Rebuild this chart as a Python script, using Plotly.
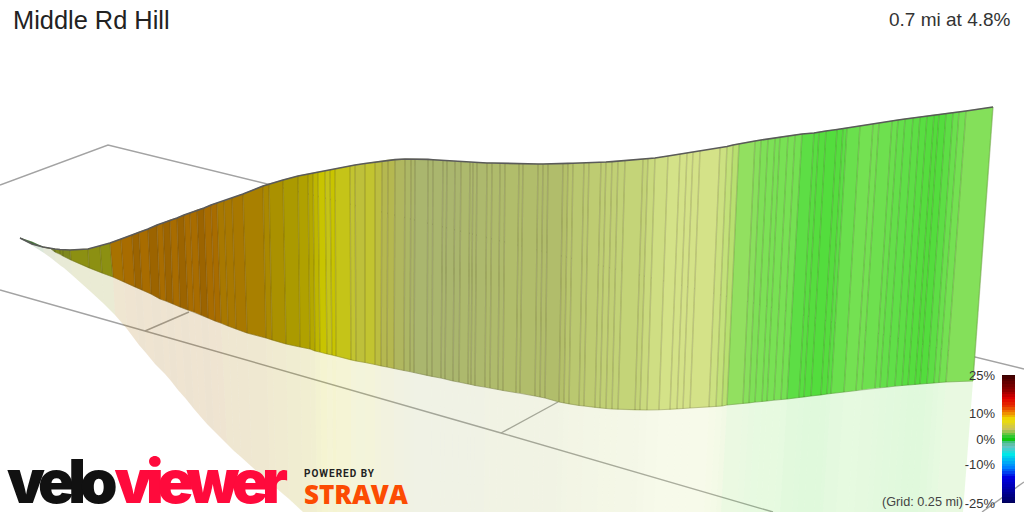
import plotly.graph_objects as go

title = "Middle Rd Hill"
summary = "0.7 mi at 4.8%"
grid_note = "(Grid: 0.25 mi)"

# Profile wall boundaries (canvas units)
top_x = [20,32,43,50,55,60,63,70,88,100,110,121,132,139,148,157,163,170,177,184,190,197,204,211,217,224,232,243,263,269,283,298,308,313,318,325,330,335,350,355,365,375,382,388,395,405,411,415,428,433,443,447,455,461,470,473,477,487,492,500,505,519,523,538,543,548,563,568,573,584,589,601,606,612,618,625,643,648,655,668,680,687,693,700,720,727,733,739,755,761,768,775,780,788,795,802,814,819,826,837,843,847,860,873,879,892,898,905,913,920,927,934,939,946,953,959,966,993]
top_y = [238,244,247,248.5,249,249.5,249.7,250,249,246,243,239,235,232,229,225,223,220,218,215,213,210,208,205,203,201,198,194,186,184,180,176,174,173,172,171,170,169,166,165,163.5,162,161,160,159.6,159,159,159,159.4,159.8,160.5,160.8,161.3,161.8,162.3,162.5,162.6,163,163,163.3,163.4,163.6,163.7,164,164,164,163.6,163.4,163.2,163,162.8,162.3,162,161.6,161.1,160.6,159,158.5,158,156,154,153,152,151,148,146.5,145,143.7,141,140,139,138,137,136,135,134,133,132,131,129.5,128.5,128,126,124,123,121,120,119,118,117,116,115,114.5,113.5,112.5,112,111,107]
base_x = [20,32,43,50,55,60,63,71,89,102,113,124,135,142,151,160,166,173,180,188,194,201,208,215,221,228,236,247,266,272,286,300,310,315,320,327,332,336,351,356,365,375,381,387,394,404,410,414,427,432,441,445,453,459,468,471,475,485,490,498,503,516,520,535,540,545,559,564,569,579,584,595,600,606,612,618,635,640,647,659,670,677,683,690,709,716,722,727,743,749,755,762,767,774,781,787,799,804,811,821,827,831,844,856,862,875,880,887,895,902,908,915,920,927,934,939,946,973]
base_y = [238,242,247,248,252,254,256,260,268,273,277,282,287,290,294,299,301,304,307,310,312,315,318,321,323,326,329,333,338,340,344,347,349,351,352,354,355,356,360,361,362.5,364.5,366,367,368.5,370.5,371.5,372.5,375.5,376.5,378,379,381,382,384,384.5,385.5,387,388,389.5,390.5,392.5,393,396,397,398,402,403,404,405.5,406,407.5,408,408.5,409,409.3,410,410,410,409.8,409.5,409,408.5,408,407,406.5,406,405,403.5,403,402,401.5,401,400,399.5,399,397.5,397,396,395,394,393.5,392,390.5,389.5,388,387.5,387,386,385.5,385,384.5,384,383.5,383,382.5,382,381]
shadow_x = [20,33,44,51,56,61,64,72,91,104,115,127,139,146,155,165,171,178,186,194,200,207,214,221,227,234,241,252,270,276,289,303,312,317,322,328,333,337,351,356,365,375,381,387,394,404,410,414,427,431,440,444,452,458,467,470,474,484,489,496,501,514,518,533,538,542,556,561,566,576,581,592,597,602,608,614,631,636,643,654,665,672,678,685,704,710,716,721,737,743,749,756,761,767,774,780,792,797,804,814,820,823,836,848,854,867,872,879,886,893,899,906,911,918,925,930,936,963]
shadow_y = [238,246,253,258,262,266,268,275,292,304,315,329,345,353,364,374,381,390,399,409,416,424,431,438,444,451,457,467,483,488,499]+[512]*87
# Colour tone of each strip between two boundaries
strip_tone = [-3,-3,-2,-2,-1.5,-1.5,-1.5,-1,-1,-1,15.5,16,17,16,17,16,17,16,17,16,16,17,16,16,15,15,15,14.5,14,13.5,13,12.5,12,11.5,11,10.5,11,10.5,10,9.7,10,9.5,9,9,8.5,8.3,8.2,8,8,8,8,8,8,7.7,7.7,7.7,7.7,7.5,7.5,7.5,7.3,7.3,7.3,7.3,7.3,7.3,7,6.7,6.6,6.5,6.4,6.3,6.2,6.2,6.1,6,6,5.6,5.3,5,5,5,5,5,4.7,4.4,4,3.2,3,2.5,2.4,2.2,2.2,2.2,2,0.8,0.5,0.3,0.2,0.3,0.7,1.5,2,2,1.7,1.5,1.2,1,0.8,0.5,0.3,0.1,0.2,0.8,1.5,2,2.8]
assert len(top_x)==len(top_y)==len(base_x)==len(base_y)==len(shadow_x)==len(shadow_y)==len(strip_tone)+1

# Ground grid
grid_a_x = [0,108,1024]; grid_a_y = [185,145,369]
grid_b_x = [0,145,501,773]; grid_b_y = [290,331,433,512]
grid_c_x = [145,189]; grid_c_y = [331,312]
grid_d_x = [501,558]; grid_d_y = [433,402]
grid_e_x = [982,1024]; grid_e_y = [512,482]

# Legend
legend_grades = list(range(-25,26))
legend_ticks = [25,10,0,-10,-25]
legend_labels = ["25%","10%","0%","-10%","-25%"]
legend_stops = [(-25,"#00005a"),(-20,"#0000a0"),(-15,"#0000e0"),(-11,"#0080ff"),(-6,"#00e8e8"),(-2.6,"#70c0c0"),(-1,"#40c080"),(0,"#10c810"),(1,"#30c830"),(3.8,"#c8c060"),(7.7,"#f0e000"),(11,"#ee7000"),(13,"#e63000"),(15.8,"#e00000"),(19,"#900000"),(25,"#3a0000")]

tone_stops = [(-3,"#3c7a34"),(-2,"#6f8028"),(-1,"#8c9012"),(-0.001,"#8c9012"),(0,"#50dc3a"),(1,"#60df48"),(2,"#74e152"),(3,"#88e05c"),(4,"#b8e070"),(5,"#d4e288"),(6,"#c4d478"),(7,"#b4c06a"),(8,"#aab66e"),(9,"#b5b850"),(10,"#c2c430"),(11,"#c8c400"),(12,"#b4a800"),(13,"#ab9a00"),(14,"#aa8800"),(15,"#a87800"),(16,"#a86c00"),(17,"#9c6400"),(18,"#8a6800")]

def rgb(h):
    return tuple(int(h[i:i+2],16) for i in (1,3,5))

def tone_rgb(t):
    for (a,ca),(b,cb) in zip(tone_stops,tone_stops[1:]):
        if a<=t<=b:
            f=(t-a)/(b-a)
            return tuple(round(p+(q-p)*f) for p,q in zip(rgb(ca),rgb(cb)))
    return rgb(tone_stops[-1][1])

fig = go.Figure()
def line(xs,ys,color="#a3a3a3",width=1.4):
    fig.add_trace(go.Scatter(x=xs,y=ys,mode="lines",line=dict(color=color,width=width),hoverinfo="skip"))

for gx,gy in [(grid_a_x,grid_a_y),(grid_b_x,grid_b_y),(grid_c_x,grid_c_y),(grid_d_x,grid_d_y),(grid_e_x,grid_e_y)]:
    line(gx,gy)

# ground shadow
for i,t in enumerate(strip_tone):
    r,g,b = tone_rgb(t)
    fig.add_trace(go.Scatter(
        x=[base_x[i],base_x[i+1],shadow_x[i+1],shadow_x[i]],
        y=[base_y[i],base_y[i+1],shadow_y[i+1],shadow_y[i]],
        mode="none",fill="toself",fillcolor=f"rgba({r},{g},{b},0.18)",hoverinfo="skip"))

# wall strips
for i,t in enumerate(strip_tone):
    r,g,b = tone_rgb(t)
    fig.add_trace(go.Scatter(
        x=[top_x[i],top_x[i+1],base_x[i+1],base_x[i]],
        y=[top_y[i],top_y[i+1],base_y[i+1],base_y[i]],
        mode="lines",fill="toself",fillcolor=f"rgb({r},{g},{b})",
        line=dict(color=f"rgb({r},{g},{b})",width=0.5),hoverinfo="skip"))

# dividers
dx=[];dy=[]
for a,b,c,d in zip(top_x,top_y,base_x,base_y):
    dx+=[a,c,None];dy+=[b,d,None]
line(dx,dy,"rgba(70,60,30,0.2)",1.5)
line(base_x,base_y,"rgba(70,70,40,0.25)",1)
line(top_x,top_y,"#5a5a5a",1.6)

# colour legend
lo,hi = legend_grades[0],legend_grades[-1]
fig.add_trace(go.Heatmap(x=[0],y=legend_grades,z=[[g] for g in legend_grades],xaxis="x2",yaxis="y2",zmin=lo,zmax=hi,
    colorscale=[[(g-lo)/(hi-lo),c] for g,c in legend_stops],showscale=False,hoverinfo="skip"))

W,H=1024,512
def note(x,y,text,size,color="#222222",anchor="left",family="Liberation Sans",weight=None):
    fig.add_annotation(x=x,y=y,xref="x",yref="y",text=text,showarrow=False,xanchor=anchor,yanchor="middle",
        font=dict(family=family,size=size,color=color,weight=weight),borderpad=0,borderwidth=0)

note(13,20,title,25.4)
note(1011,19,summary,19,"#333333","right")
note(963,502,grid_note,12.7,"#444444","right")
note(59,481,"velo",60,"#111111","center","Inter",900)
note(198,481,"viewer",60,"#ff0a3c","center","Inter",900)
note(340,473,"POWERED BY",10,"#222222","center","Roboto",700)
note(304,494,"STRAVA",26,"#fc4c02","left","Open Sans",800)

fig.update_layout(
    width=W,height=H,margin=dict(l=0,r=0,t=0,b=0,pad=0,autoexpand=False),paper_bgcolor="white",plot_bgcolor="white",showlegend=False,
    xaxis=dict(range=[0,W],visible=False,domain=[0,1],fixedrange=True),
    yaxis=dict(range=[H,0],visible=False,domain=[0,1],fixedrange=True),
    xaxis2=dict(domain=[1002/W,1015/W],anchor="y2",visible=False,fixedrange=True),
    yaxis2=dict(domain=[(H-503)/H,(H-375)/H],range=[-25,25],anchor="x2",side="left",tickvals=legend_ticks,ticktext=legend_labels,
        ticklen=0,showgrid=False,zeroline=False,showline=False,ticklabelstandoff=6,fixedrange=True,
        tickfont=dict(family="Liberation Sans",size=13,color="#333333")),
)
tracking = """
document.body.style.margin='0';
var sp={'velo':'-6px','viewer':'-6.5px','POWERED BY':'1px'};
document.querySelectorAll('.annotation-text').forEach(function(t){
  if(sp[t.textContent]) t.style.letterSpacing=sp[t.textContent];
});
"""
fig.write_html("out.html",config=dict(displayModeBar=False),post_script=tracking)
